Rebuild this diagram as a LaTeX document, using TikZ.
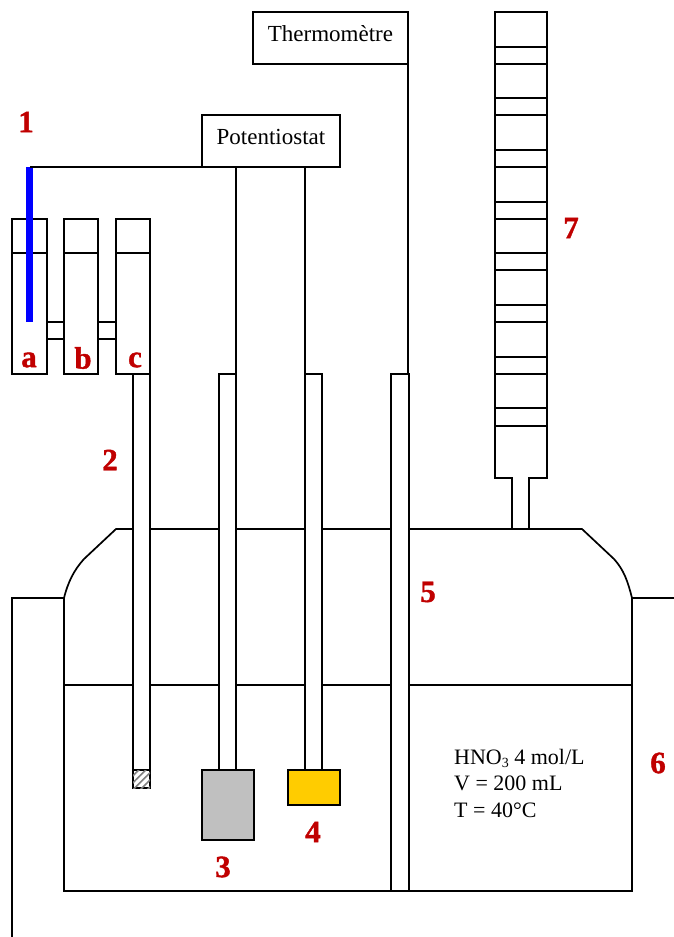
\documentclass[tikz,border=0pt]{standalone}
\usepackage{fontspec}
\setmainfont{Liberation Serif}
\newfontfamily\labfont{Liberation Serif}[UprightFont={* Bold},FakeBold=1.2]
\usetikzlibrary{patterns,patterns.meta}
\definecolor{redlab}{HTML}{C00000}
\definecolor{goldbl}{HTML}{FFCC00}
\definecolor{greybl}{HTML}{C0C0C0}
\tikzset{
  ln/.style={line width=1.7pt,black},
  boxr/.style={draw=black,line width=1.7pt,fill=white,rectangle,inner sep=0pt,outer sep=0pt,font=\fontsize{23}{27}\selectfont},
  num/.style={text=redlab,inner sep=0pt,font=\labfont\fontsize{31}{34}\selectfont},
  txt/.style={inner sep=0pt,font=\fontsize{22}{26.5}\selectfont,align=left,anchor=north west}
}
% name, x1, y1, x2, y2, style, text
\newcommand{\rn}[7]{%
  \pgfmathsetmacro{\rw}{#4-#2}\pgfmathsetmacro{\rh}{#5-#3}%
  \node[boxr,minimum width=\rw pt,minimum height=\rh pt,#6] (#1) at ({(#2+#4)/2},{(#3+#5)/2}) {\smash{\raisebox{-3pt}{#7}}};}
\begin{document}
\begin{tikzpicture}[x=1pt,y=-1pt]
\useasboundingbox (0,0) rectangle (674,937);
% vessel
\coordinate (ol) at (12,937);
\coordinate (otl) at (12,598);
\coordinate (il) at (64,598);
\coordinate (ibl) at (64,891);
\coordinate (ibr) at (632,891);
\coordinate (ir) at (632,598);
\coordinate (otr) at (674,598);
\coordinate (ntl) at (116,529);
\coordinate (ntr) at (582,529);
\coordinate (lvl) at (64,685);
\coordinate (lvr) at (632,685);
\draw[ln,line join=miter] (ol) -- (otl) -- (il) -- (ibl) -- (ibr) -- (ir) -- (otr);
\draw[ln] (il) .. controls (68,582) and (74,570) .. (84,559) -- (ntl) -- (ntr)
   -- (614,559) .. controls (624,570) and (628,582) .. (ir);
\draw[ln] (lvl) -- (lvr);
% thermometer and potentiostat
\rn{therm}{253}{12}{408}{64}{}{Thermomètre}
\rn{pot}{202}{115}{340}{167}{}{Potentiostat}
% vials
\rn{va}{12}{219}{47}{374}{}{}
\rn{vb}{64}{219}{98}{374}{}{}
\rn{vc}{116}{219}{150}{374}{}{}
\draw[ln] (12,253) -- (47,253) (64,253) -- (98,253) (116,253) -- (150,253);
\draw[ln] (va.east |- 0,322) -- (vb.west |- 0,322) (va.east |- 0,339) -- (vb.west |- 0,339);
\draw[ln] (vb.east |- 0,322) -- (vc.west |- 0,322) (vb.east |- 0,339) -- (vc.west |- 0,339);
% tubes
\rn{t2}{133}{374}{150}{770}{}{}
\rn{tip}{133}{770}{150}{788}{}{}
\fill[pattern={Lines[angle=45,distance=5pt,line width=1.6pt]},pattern color=gray] (tip.south west) rectangle (tip.north east);
\rn{t3}{219}{374}{236}{770}{}{}
\rn{t4}{305}{374}{322}{770}{}{}
\rn{t5}{391}{374}{409}{891}{}{}
\rn{b3}{202}{770}{254}{840}{fill=greybl,line width=2pt}{}
\rn{b4}{288}{770}{340}{805}{fill=goldbl,line width=2pt}{}
% wires
\draw[ln] (pot.south -| t3.east) -- (t3.north east);
\draw[ln] (pot.south -| t4.west) -- (t4.north west);
\draw[ln] (therm.south east) -- (therm.east |- t5.north);
% burette
\rn{st}{512}{478}{529}{529}{}{}
\rn{bu}{495}{12}{547}{478}{}{}
\foreach \a/\b in {47/64,98/115,150/167,202/219,253/270,305/322,357/374,408/426}
  \draw[ln] (bu.west |- 0,\a) -- (bu.east |- 0,\a) (bu.west |- 0,\b) -- (bu.east |- 0,\b);
\draw[white,line width=1.8pt] (513.2,478) -- (527.8,478);
% electrode 1
\node[fill={rgb,255:red,0;green,0;blue,255},minimum width=7.5pt,minimum height=155pt,inner sep=0pt,outer sep=0pt] (el) at (29.5,244.5) {};
\draw[ln] (pot.south west) -- (el.north);
% labels
\node[num] (n1) at (26,122) {1};
\node[num] (na) at (29,360) {a};
\node[num] (nb) at (83,358) {b};
\node[num] (nc) at (135,360) {c};
\node[num] (n2) at (110,460) {2};
\node[num] (n3) at (223,867) {3};
\node[num] (n4) at (313,832) {4};
\node[num] (n5) at (428,592) {5};
\node[num] (n6) at (658,763) {6};
\node[num] (n7) at (571,228) {7};
\node[txt] (sol) at (454,749) {HNO{\fontsize{14}{14}\selectfont\raisebox{-3pt}{3}} 4 mol/L\\V = 200 mL\\T = 40°C};
\end{tikzpicture}
\end{document}
